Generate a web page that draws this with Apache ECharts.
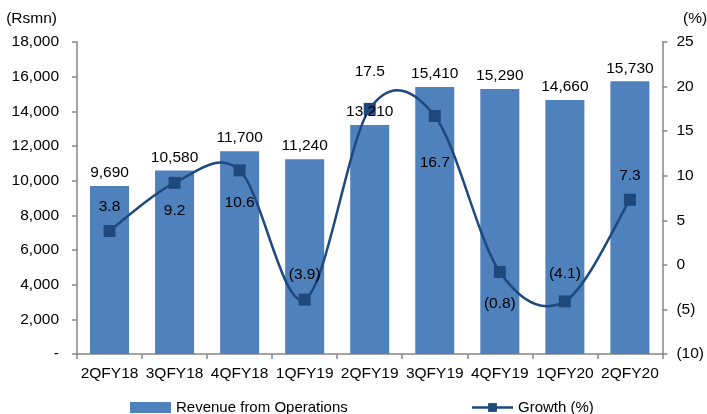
<!DOCTYPE html>
<html>
<head>
<meta charset="utf-8">
<script src="https://cdn.jsdelivr.net/npm/echarts@6/dist/echarts.min.js"></script>
<style>
  html, body { margin: 0; padding: 0; background: #fff; }
  #chart { width: 707px; height: 414px; }
</style>
</head>
<body>
<div id="chart"></div>
<script>
// Quarterly revenue (Rs mn) and growth (%)
const quarters = ['2QFY18', '3QFY18', '4QFY18', '1QFY19', '2QFY19', '3QFY19', '4QFY19', '1QFY20', '2QFY20'];
const revenue = [9690, 10580, 11700, 11240, 13210, 15410, 15290, 14660, 15730];
const growth = [3.8, 9.2, 10.6, -3.9, 17.5, 16.7, -0.8, -4.1, 7.3];
// where each growth label sits relative to its marker
const growthLabelSide = ['top', 'bottom', 'bottom', 'top', 'top', 'bottom', 'bottom', 'top', 'top'];
const growthLabelGap = [10, 14, 18, 11, 23, 33, 18, 14, 10];

const FONT = '"Liberation Sans", Arial, sans-serif';
const FS = 15.5;
const TXT = '#000';
const AXIS = '#868686';
const BAR = '#4F81BD';
const LINE = '#1F497D';

const fmtThousands = v => v === 0 ? '-' : v.toLocaleString('en-US');
const fmtPct = v => v < 0 ? '(' + Math.abs(v) + ')' : String(v);
const fmtPctLabel = v => v < 0 ? '(' + Math.abs(v).toFixed(1) + ')' : v.toFixed(1);

// Smooth growth curve: one cubic Bezier per segment, Catmull-Rom style tangents
function renderCurveSegment(params, api) {
  const i = params.dataIndex;
  const n = growth.length;
  if (i >= n - 1) return null;
  const pt = k => {
    const j = Math.max(0, Math.min(n - 1, k));
    return api.coord([j, growth[j]]);
  };
  const p0 = pt(i - 1), p1 = pt(i), p2 = pt(i + 1), p3 = pt(i + 2);
  const t = 1 / 6;
  return {
    type: 'bezierCurve',
    shape: {
      x1: p1[0], y1: p1[1],
      x2: p2[0], y2: p2[1],
      cpx1: p1[0] + (p2[0] - p0[0]) * t, cpy1: p1[1] + (p2[1] - p0[1]) * t,
      cpx2: p2[0] - (p3[0] - p1[0]) * t, cpy2: p2[1] - (p3[1] - p1[1]) * t
    },
    style: { stroke: LINE, lineWidth: 2.5, fill: null }
  };
}

const chart = echarts.init(document.getElementById('chart'), null, { renderer: 'canvas' });

chart.setOption({
  animation: false,
  textStyle: { fontFamily: FONT, color: TXT },
  grid: { left: 77, right: 43, top: 42, bottom: 60, containLabel: false },
  graphic: [
    { type: 'text', right: 650, top: 11, style: { text: '(Rsmn)', font: FS + 'px ' + FONT, fill: TXT, textAlign: 'right' } },
    { type: 'text', left: 683, top: 11, style: { text: '(%)', font: FS + 'px ' + FONT, fill: TXT } }
  ],
  legend: {
    left: 125,
    top: 395,
    itemWidth: 41,
    itemHeight: 11,
    itemGap: 123,
    textStyle: { fontFamily: FONT, fontSize: 15, color: TXT },
    data: [
      { name: 'Revenue from Operations', icon: 'rect' },
      { name: 'Growth (%)', lineStyle: { color: LINE, width: 2.5, opacity: 1 } }
    ]
  },
  xAxis: {
    type: 'category',
    data: quarters,
    axisLine: { lineStyle: { color: AXIS, width: 1.5 } },
    axisTick: { show: true, length: 5, interval: 0, alignWithLabel: false, lineStyle: { color: AXIS, width: 1.5 } },
    axisLabel: { color: TXT, fontFamily: FONT, fontSize: FS, margin: 12, interval: 0 }
  },
  yAxis: [
    {
      type: 'value',
      min: 0, max: 18000, interval: 2000,
      splitLine: { show: false },
      axisLine: { show: true, lineStyle: { color: AXIS, width: 1.5 } },
      axisTick: { show: true, length: 5, lineStyle: { color: AXIS, width: 1.5 } },
      axisLabel: { color: TXT, fontFamily: FONT, fontSize: FS, margin: 18, formatter: fmtThousands }
    },
    {
      type: 'value',
      min: -10, max: 25, interval: 5,
      position: 'right',
      splitLine: { show: false },
      axisLine: { show: true, lineStyle: { color: AXIS, width: 1.5 } },
      axisTick: { show: true, length: 5, lineStyle: { color: AXIS, width: 1.5 } },
      axisLabel: { color: TXT, fontFamily: FONT, fontSize: FS, margin: 14, formatter: fmtPct }
    }
  ],
  series: [
    {
      name: 'Revenue from Operations',
      type: 'bar',
      yAxisIndex: 0,
      barWidth: '60%',
      data: revenue,
      itemStyle: { color: BAR },
      z: 2
    },
    {
      name: 'Growth curve',
      type: 'custom',
      yAxisIndex: 1,
      renderItem: renderCurveSegment,
      encode: { x: 0, y: 1 },
      data: growth.map((v, i) => [i, v]),
      silent: true,
      z: 3
    },
    {
      name: 'Growth (%)',
      type: 'line',
      yAxisIndex: 1,
      symbol: 'rect',
      symbolSize: 12,
      lineStyle: { color: LINE, width: 2.5, opacity: 0 },
      itemStyle: { color: LINE },
      data: growth.map((v, i) => ({
        value: v,
        label: { position: growthLabelSide[i], distance: growthLabelGap[i] }
      })),
      label: {
        show: true,
        color: TXT,
        fontFamily: FONT,
        fontSize: FS,
        formatter: p => fmtPctLabel(p.value)
      },
      z: 4
    },
    {
      // revenue value labels, kept above the growth markers
      name: 'Revenue labels',
      type: 'bar',
      yAxisIndex: 0,
      barWidth: '60%',
      barGap: '-100%',
      data: revenue,
      silent: true,
      itemStyle: { color: 'rgba(0,0,0,0)' },
      label: {
        show: true,
        position: 'top',
        distance: 5,
        color: TXT,
        fontFamily: FONT,
        fontSize: FS,
        formatter: p => fmtThousands(p.value)
      },
      z: 5
    }
  ]
});
</script>
</body>
</html>
